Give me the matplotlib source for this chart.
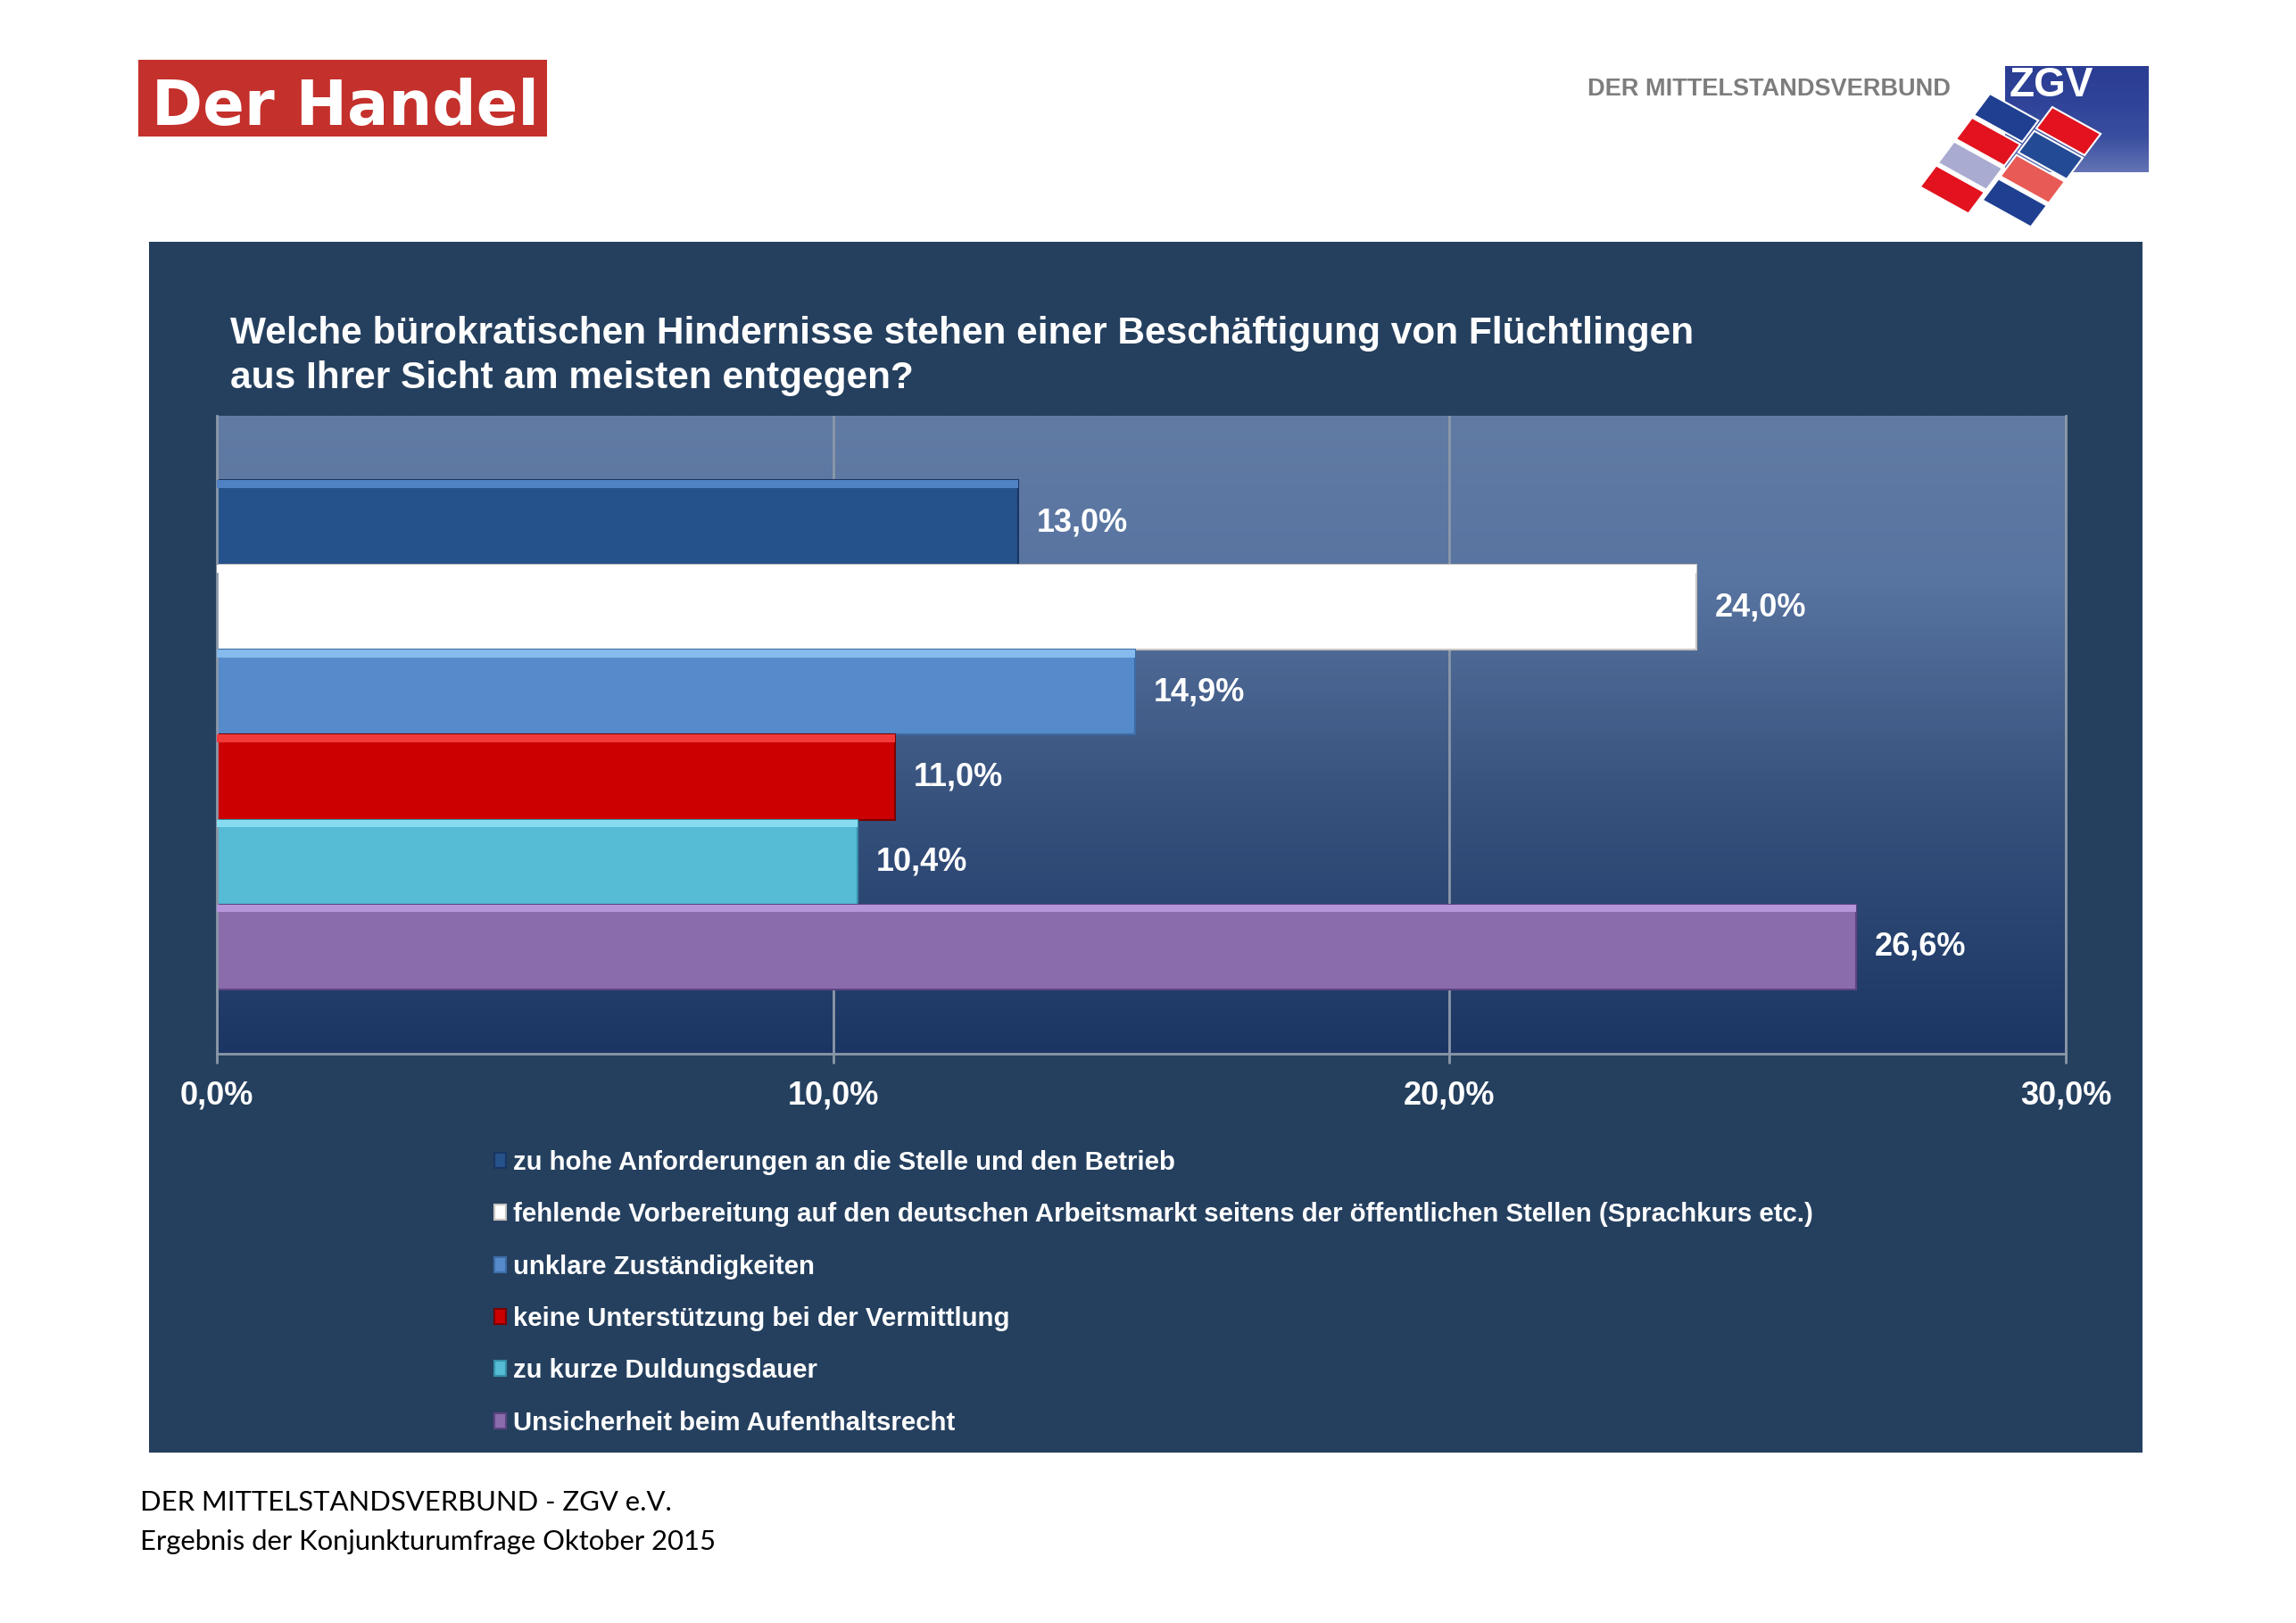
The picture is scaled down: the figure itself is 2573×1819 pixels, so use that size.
import numpy as np
import matplotlib
matplotlib.use("Agg")
import matplotlib.pyplot as plt
from matplotlib.patches import Rectangle, Polygon

plt.rcParams["font.family"] = ["Liberation Sans", "DejaVu Sans"]

# ---------------- data ----------------
categories = [
    "zu hohe Anforderungen an die Stelle und den Betrieb",
    "fehlende Vorbereitung auf den deutschen Arbeitsmarkt seitens der öffentlichen Stellen (Sprachkurs etc.)",
    "unklare Zuständigkeiten",
    "keine Unterstützung bei der Vermittlung",
    "zu kurze Duldungsdauer",
    "Unsicherheit beim Aufenthaltsrecht",
]
values = [13.0, 24.0, 14.9, 11.0, 10.4, 26.6]
xticks = [0, 10, 20, 30]
xtick_labels = ["0,0%", "10,0%", "20,0%", "30,0%"]
title_lines = [
    "Welche bürokratischen Hindernisse stehen einer Beschäftigung von Flüchtlingen",
    "aus Ihrer Sicht am meisten entgegen?",
]
footer_lines = [
    "DER MITTELSTANDSVERBUND - ZGV e.V.",
    "Ergebnis der Konjunkturumfrage Oktober 2015",
]
bar_colors = ["#26528b", "#ffffff", "#568bcb", "#cc0000", "#56bcd6", "#8a6cad"]
highlight_colors = ["#4f83c4", "#ffffff", "#86bbee", "#f03a3a", "#86dcee", "#b696db"]
edge_colors = ["#1a3560", "#c8c4c0", "#3d6ca6", "#7a0000", "#3690a8", "#5c4580"]

# ---------------- figure ----------------
W, H = 2573, 1819
fig = plt.figure(figsize=(W / 100, H / 100), dpi=100)
fig.patch.set_facecolor("white")

bg = fig.add_axes([0, 0, 1, 1], zorder=0)
bg.set_xlim(0, W)
bg.set_ylim(H, 0)
bg.axis("off")

# dark panel
bg.add_patch(Rectangle((167, 271), 2401 - 167, 1628 - 271, facecolor="#25405f", edgecolor="none"))

# "Der Handel" logo
bg.add_patch(Rectangle((155, 67), 458, 86, facecolor="#c4302b", edgecolor="none"))
bg.text(387, 140, "Der Handel", ha="center", va="baseline", color="white",
        fontsize=49.5, fontweight="bold", family=["DejaVu Sans"])

# ZGV logo
bg.text(2186, 107, "DER MITTELSTANDSVERBUND", ha="right", va="baseline", color="#7d7d7d",
        fontsize=19.5, fontweight="bold")
grad = np.linspace(0, 1, 100)[:, None]
box_cmap = matplotlib.colors.LinearSegmentedColormap.from_list(
    "zgvbox", ["#2b3d93", "#2f4399", "#3a4ea0", "#6373b4"])
bg.imshow(grad, extent=(2247, 2408, 193, 74), cmap=box_cmap, aspect="auto", zorder=1)
bg.text(2252, 108, "ZGV", ha="left", va="baseline", color="white", fontsize=33,
        fontweight="heavy", zorder=3)

ang = np.deg2rad(29)
u = np.array([np.cos(ang), np.sin(ang)])
v = np.array([-0.6, 0.8])
L, Wt, g = 62, 30, 3.5
P0 = np.array([2230, 105])
tile_cols = [
    ["#1f3f91", "#e2121e", "#a9abd0", "#e2121e"],
    ["#e2121e", "#234a94", "#e85a55", "#1f3f91"],
]
for i, col in enumerate(tile_cols):
    for j, c in enumerate(col):
        o = P0 + i * (L + g) * u + (j * (Wt + g) + (-21 if i == 1 else 0)) * v
        pts = [o, o + L * u, o + L * u + Wt * v, o + Wt * v]
        bg.add_patch(Polygon(pts, closed=True, facecolor=c, edgecolor="white", lw=1.5, zorder=2))

# title
bg.text(258, 385, title_lines[0], ha="left", va="baseline", color="white", fontsize=30.5, fontweight="bold")
bg.text(258, 435, title_lines[1], ha="left", va="baseline", color="white", fontsize=30.5, fontweight="bold")

# footer
bg.text(157, 1693, footer_lines[0], ha="left", va="baseline", color="black", fontsize=22.3,
        family=["Lato", "DejaVu Sans"])
bg.text(157, 1737, footer_lines[1], ha="left", va="baseline", color="black", fontsize=22.3,
        family=["Lato", "DejaVu Sans"])

# ---------------- chart ----------------
ax = fig.add_axes([243 / W, 1 - 1181 / H, (2315 - 243) / W, (1181 - 466) / H], zorder=1)
n = len(values)
ypos = np.arange(n)
margin = 0.76
ylo, yhi = -0.5 - margin, n - 0.5 + margin

bg_cmap = matplotlib.colors.LinearSegmentedColormap.from_list(
    "plotbg", [(0.0, "#617ba4"), (0.25, "#5874a0"), (0.6, "#37527d"), (1.0, "#1b3663")])
ax.imshow(np.linspace(0, 1, 256)[:, None], extent=(0, 30, yhi, ylo), cmap=bg_cmap,
          aspect="auto", zorder=0)

bars = ax.barh(ypos, values, height=1.0, color=bar_colors, edgecolor=edge_colors,
               linewidth=1.5, zorder=2)
ax.barh(ypos - 0.5 + 0.045, values, height=0.09, color=highlight_colors, linewidth=0, zorder=3)

for y, val in zip(ypos, values):
    ax.text(val + 0.3, y, f"{val:.1f}%".replace(".", ","), ha="left", va="center",
            color="white", fontsize=26, fontweight="bold", zorder=4)

ax.set_xlim(0, 30)
ax.set_ylim(yhi, ylo)
ax.set_facecolor("none")
ax.set_xticks(xticks)
ax.set_xticklabels(xtick_labels, fontsize=26, fontweight="bold", color="white")
ax.tick_params(axis="x", colors="#8c98a8", labelcolor="white", length=8, width=2, pad=13)
ax.set_yticks([])
ax.xaxis.grid(True, color="#8c98a8", linewidth=2, zorder=1)
ax.set_axisbelow(True)
for s in ["left", "bottom", "right"]:
    ax.spines[s].set_color("#8c98a8")
    ax.spines[s].set_linewidth(2)
ax.spines["top"].set_visible(False)

leg = ax.legend(bars, categories, loc="upper left", bbox_to_anchor=(554 / W, 1 - 1289 / H),
                bbox_transform=fig.transFigure, frameon=False, borderpad=0, borderaxespad=0,
                handlelength=0.45, handleheight=0.5, handletextpad=0.25, labelspacing=1.03,
                prop={"size": 21.2, "weight": "bold"})
for t in leg.get_texts():
    t.set_color("white")

fig.savefig("out.png", dpi=100, facecolor="white")
